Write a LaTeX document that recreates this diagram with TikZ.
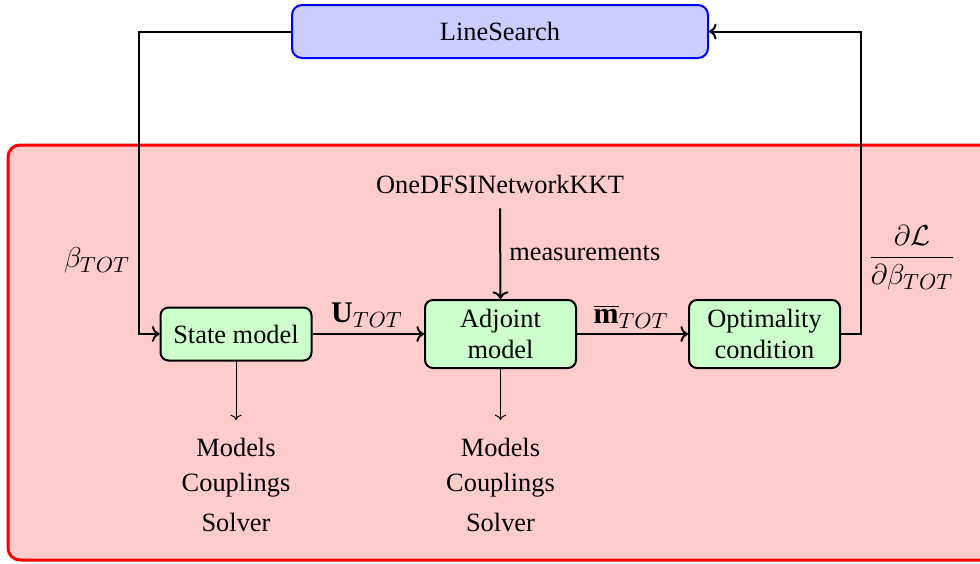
\documentclass[tikz,border=0pt]{standalone}
\usepackage{fontspec}
\setmainfont{Liberation Serif}
\usetikzlibrary{arrows.meta}
\begin{document}
\begin{tikzpicture}[x=0.5pt,y=-0.5pt,
  every node/.style={font=\fontsize{13.2}{15.5}\selectfont},
  blk/.style={draw=black, line width=1pt, fill=green!20, rounded corners=4pt,
    minimum width=75.5pt, align=center, inner sep=4pt},
  flow/.style={line width=1pt,->},
  thinflow/.style={line width=0.5pt,->},
  lbl/.style={font=\fontsize{15}{18}\selectfont},
  outlist/.style={align=center, anchor=north, inner ysep=9pt}]
\clip (0,0) rectangle (980,563);
% optimisation loop background
\draw[red, line width=1.5pt, fill=red!20, rounded corners=6pt] (8,145) rectangle (1010,560);

% blocks
\node[draw=blue, line width=1pt, fill=blue!20, rounded corners=5pt,
  minimum width=208pt, minimum height=26.5pt] (ls) at (500,31.5) {LineSearch};
\node[blk, minimum height=26.5pt] (st) at (236,334) {State model};
\node[blk, minimum height=34pt] (adj) at (500.5,334) {Adjoint\\model};
\node[blk, minimum height=34pt] (opt) at (764.5,334) {Optimality\\condition};
\node (kkt) at (500,184) {OneDFSINetworkKKT};

% sub-component lists
\node[outlist] (stm) at (236,420) {Models\\[2pt]Couplings\\[4.5pt]Solver};
\node[outlist] (adjm) at (500.5,420) {Models\\[2pt]Couplings\\[4.5pt]Solver};

% connectors
\draw[flow] ([yshift=-4pt]kkt.south) -- (adj.north)
  node[midway, right, inner xsep=4pt] (meas) {measurements};
\draw[flow] (st.east) -- (adj.west);
\draw[flow] (adj.east) -- (opt.west);
\draw[flow] (ls.west) -- ++(-152,0) |- (st.west);
\draw[flow] (opt.east) -- ++(20,0) |- (ls.east);
\draw[thinflow] (st.south) -- (stm.north);
\draw[thinflow] (adj.south) -- (adjm.north);

% labels
\node[lbl] (beta) at (97,260) {$\beta_{TOT}$};
\node[lbl] (dl) at (912,258) {$\displaystyle\frac{\partial\mathcal{L}}{\partial\beta_{TOT}}$};
\node[lbl] (ulab) at (367,315) {$\mathbf{U}_{TOT}$};
\node[lbl] (mlab) at (631,317) {$\overline{\mathbf{m}}_{TOT}$};
\end{tikzpicture}
\end{document}
